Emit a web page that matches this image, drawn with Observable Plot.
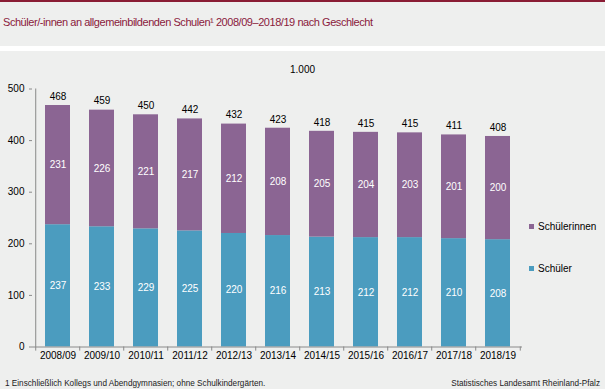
<!DOCTYPE html>
<html>
<head>
<meta charset="utf-8">
<script src="https://cdn.jsdelivr.net/npm/d3@7"></script>
<script src="https://cdn.jsdelivr.net/npm/@observablehq/plot@0.6"></script>
<style>
  html, body { margin: 0; padding: 0; }
  body { width: 605px; height: 389px; background: #eeefee; font-family: "Liberation Sans", Arial, sans-serif; position: relative; overflow: hidden; }
  #topbar { height: 2px; background: #8a1c34; }
  #title { height: 44px; box-sizing: border-box; padding: 14px 0 0 3px; font-size: 11px; color: #8a1a3c; letter-spacing: -0.45px; }
  #sep { height: 5px; background: #ffffff; }
  #chart { position: relative; height: 318px; }
  #unit { position: absolute; left: 0; width: 605px; top: 13px; text-align: center; font-size: 10px; color: #000; }
  .leg { position: absolute; left: 529px; font-size: 10px; color: #000; display: flex; align-items: center; }
  .leg span.sw { display: inline-block; width: 5px; height: 5px; margin-right: 4px; }
  #foot { position: absolute; left: 0; top: 379px; width: 605px; font-size: 8.2px; color: #222; }
  #foot .l { position: absolute; left: 5px; }
  #foot .r { position: absolute; right: 5px; }
</style>
</head>
<body>
<div id="topbar"></div>
<div id="title">Schüler/-innen an allgemeinbildenden Schulen¹ 2008/09–2018/19 nach Geschlecht</div>
<div id="sep"></div>
<div id="chart"><div id="unit">1.000</div></div>
<div id="foot"><span class="l">1 Einschließlich Kollegs und Abendgymnasien;  ohne Schulkindergärten.</span><span class="r">Statistisches Landesamt Rheinland-Pfalz</span></div>
<script>
const years = ["2008/09","2009/10","2010/11","2011/12","2012/13","2013/14","2014/15","2015/16","2016/17","2017/18","2018/19"];
const schueler = [237,233,229,225,220,216,213,212,212,210,208];
const schuelerinnen = [231,226,221,217,212,208,205,204,203,201,200];
const totals = [468,459,450,442,432,423,418,415,415,411,408];
const groups = ["Schüler","Schülerinnen"];
const colors = ["#4b9cbf","#8b6593"];
const yTicks = [0,100,200,300,400,500];

const rows = [];
years.forEach((y, i) => {
  rows.push({year: y, group: groups[0], value: schueler[i]});
  rows.push({year: y, group: groups[1], value: schuelerinnen[i]});
});
const totalRows = years.map((y, i) => ({year: y, total: totals[i]}));

const W = 605, mL = 32, mR = 83;
const step = (W - mL - mR) / years.length;
const axisColor = "#8a8a8a";

const plot = Plot.plot({
  width: W,
  height: 318,
  marginLeft: mL,
  marginRight: mR,
  marginTop: 37.5,
  marginBottom: 22.5,
  style: {background: "transparent", fontFamily: "'Liberation Sans', Arial, sans-serif", fontSize: "10px", color: "#000"},
  x: {domain: years, paddingInner: 0.44, paddingOuter: 0.22, label: null},
  y: {domain: [0, 500], label: null},
  color: {domain: groups, range: colors},
  marks: [
    Plot.barY(rows, {x: "year", y: "value", fill: "group", z: "group", order: groups}),
    Plot.text(rows, Plot.stackY({x: "year", y: "value", z: "group", text: "value", order: groups, fill: "white", fontSize: 10})),
    Plot.text(totalRows, {x: "year", y: "total", text: "total", dy: -9, fill: "#000", fontSize: 10}),
    Plot.axisY({ticks: yTicks, tickSize: 3, tickPadding: 5, stroke: axisColor, fill: "#000", fontSize: 10, label: null}),
    Plot.axisX({tickSize: 0, tickPadding: 5, fill: "#000", fontSize: 10, label: null}),
    Plot.ruleY([0], {stroke: axisColor}),
    Plot.ruleX(years.slice(0, 1), {x: d => d, dx: -step / 2, y1: -8, y2: 500, stroke: axisColor}),
    Plot.ruleX(years.slice(1), {x: d => d, dx: -step / 2, y1: 0, y2: -8, stroke: axisColor}),
    Plot.ruleX(years.slice(-1), {x: d => d, dx: step / 2, y1: 0, y2: -8, stroke: axisColor})
  ]
});
document.getElementById("chart").appendChild(plot);

// legend (HTML)
const chart = document.getElementById("chart");
[[groups[1], colors[1], 170], [groups[0], colors[0], 212]].forEach(([g, c, top]) => {
  const d = document.createElement("div");
  d.className = "leg";
  d.style.top = top + "px";
  d.innerHTML = `<span class="sw" style="background:${c}"></span>${g}`;
  chart.appendChild(d);
});
</script>
</body>
</html>
